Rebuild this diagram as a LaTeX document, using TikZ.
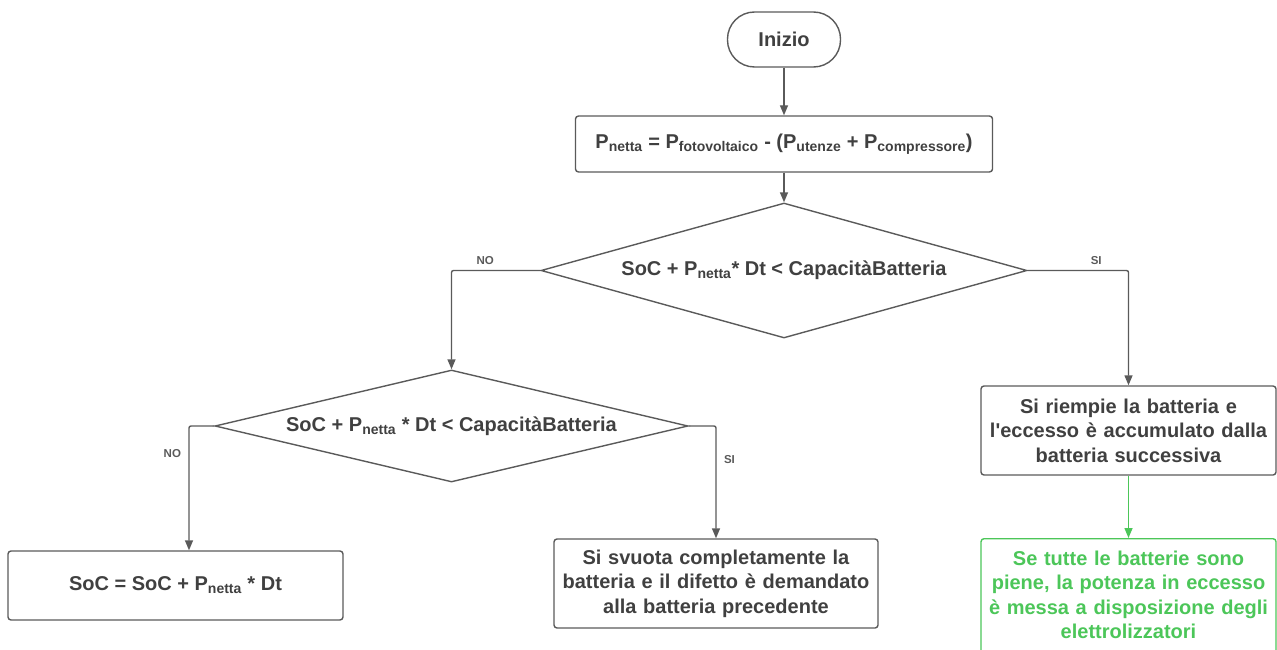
\documentclass[tikz,border=0pt]{standalone}
\usepackage{fontspec}
\setmainfont{Liberation Sans}
\usetikzlibrary{shapes.geometric,arrows.meta}
\definecolor{ink}{HTML}{404040}
\definecolor{edge}{HTML}{5A5A5A}
\definecolor{leaf}{HTML}{4CC659}
\begin{document}
\begin{tikzpicture}[x=1pt,y=-1pt,
  every node/.style={font=\bfseries\fontsize{20}{24.5}\selectfont, text=ink},
  flow/.style={draw=edge, line width=1.4pt, rounded corners=2pt,
    -{Triangle[length=10pt,width=8pt]}},
  procbox/.style={draw=edge, line width=1.4pt, rounded corners=3pt,
    align=center, inner sep=0pt},
  choice/.style={draw=edge, line width=1.4pt, diamond, inner sep=0pt},
  tag/.style={font=\bfseries\fontsize{11.5}{13}\selectfont, text=edge}]
\useasboundingbox (0,0) rectangle (1277,650);
\clip (0,0) rectangle (1277,650);

% start terminal
\node[procbox, minimum width=113pt, minimum height=55pt, rounded corners=27pt]
  (start) at (784,39.5) {Inizio};

% net power
\node[procbox, minimum width=417pt, minimum height=56pt] (net) at (784,144)
  {P\textsubscript{netta} = P\textsubscript{fotovoltaico} - (P\textsubscript{utenze} + P\textsubscript{compressore})};

% decisions
\node[choice, aspect=3.6, minimum width=486pt, minimum height=135pt] (q1) at (784,270.5)
  {SoC + P\textsubscript{netta}* Dt < CapacitàBatteria};
\node[choice, aspect=4.22, minimum width=473pt, minimum height=112pt] (q2) at (451.5,426)
  {SoC + P\textsubscript{netta} * Dt < CapacitàBatteria};

% outcomes
\node[procbox, minimum width=335pt, minimum height=69pt] (upd) at (175.5,585.5)
  {SoC = SoC + P\textsubscript{netta} * Dt};
\node[procbox, text width=324pt, minimum height=89pt] (empty) at (716,583.5)
  {Si svuota completamente la\\batteria e il difetto è demandato\\alla batteria precedente};
\node[procbox, text width=295pt, minimum height=89pt] (fill) at (1128.5,430.5)
  {Si riempie la batteria e\\l\textquotesingle eccesso è accumulato dalla\\batteria successiva};
\node[procbox, draw=leaf, text=leaf, text width=295pt, anchor=north,
  inner ysep=12pt, text depth=110pt] (spill) at (1128.5,538)
  {Se tutte le batterie sono\\piene, la potenza in eccesso\\è messa a disposizione degli\\elettrolizzatori};

% connectors
\draw[flow] (start) -- (net);
\draw[flow] (net) -- (q1);
\draw[flow] (q1.west) -| node[tag, pos=0.31, above=2pt] {NO} (q2.north);
\draw[flow] (q1.east) -| node[tag, pos=0.34, above=2pt] {SI} (fill.north);
\draw[flow] (q2.west) -| node[tag, pos=0.61, left=4pt] {NO} ([xshift=13.5pt]upd.north);
\draw[flow] (q2.east) -| node[tag, pos=0.65, right=4pt] {SI} (empty.north);
\draw[flow, draw=leaf] (fill) -- (spill);
\end{tikzpicture}
\end{document}
